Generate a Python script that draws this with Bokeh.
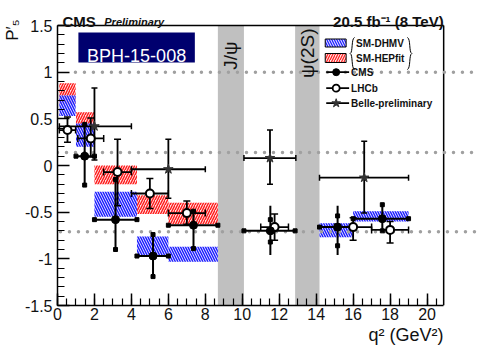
import math
from bokeh.plotting import figure
from bokeh.models import Label, Title, BoxAnnotation, SingleIntervalTicker, NumeralTickFormatter
from bokeh.embed import file_html
from bokeh.resources import INLINE

# ---------------- data ----------------
veto_lo = [8.68, 12.86]
veto_hi = [10.09, 14.18]
veto_labels = ["J/ψ", "ψ(2S)"]

# SM-DHMV theory bands
dhmv_left = [0.1, 1.0, 2.0, 4.3, 6.0, 14.18, 16.0]
dhmv_right = [0.98, 2.0, 4.3, 6.0, 8.68, 16.0, 19.0]
dhmv_lo = [0.53, 0.20, -0.55, -0.97, -1.03, -0.77, -0.60]
dhmv_hi = [0.75, 0.45, -0.28, -0.76, -0.87, -0.62, -0.49]

# SM-HEPfit theory bands
hep_left = [0.1, 1.0, 2.0, 4.3, 6.0]
hep_right = [0.98, 2.0, 4.3, 6.0, 8.68]
hep_lo = [0.66, 0.40, -0.20, -0.52, -0.63]
hep_hi = [0.88, 0.57, 0.00, -0.32, -0.40]

# CMS
cms_left = [1.0, 2.0, 4.3, 6.0, 10.09, 14.18, 16.0]
cms_right = [2.0, 4.3, 6.0, 8.68, 12.86, 16.0, 19.0]
cms_x = [1.47, 3.14, 5.17, 7.36, 11.52, 15.16, 17.58]
cms_p5 = [0.10, -0.58, -0.97, -0.64, -0.70, -0.66, -0.57]
cms_tot_lo = [-0.21, -0.90, -1.19, -0.89, -0.96, -0.96, -0.70]
cms_tot_hi = [0.44, -0.15, -0.74, -0.49, -0.43, -0.43, -0.42]
cms_stat_lo = [-0.21, -0.90, -1.19, -0.89, -0.82, -0.86, -0.70]
cms_stat_hi = [0.44, -0.15, -0.74, -0.49, -0.58, -0.54, -0.42]

# LHCb
lhcb_left = [0.1, 1.1, 2.5, 4.0, 6.0, 11.0, 15.0, 17.0]
lhcb_right = [0.98, 2.5, 4.0, 6.0, 8.0, 12.5, 17.0, 19.0]
lhcb_x = [0.54, 1.8, 3.25, 5.0, 7.0, 11.75, 16.0, 18.0]
lhcb_p5 = [0.38, 0.29, -0.07, -0.30, -0.51, -0.66, -0.66, -0.69]
lhcb_lo = [0.25, 0.09, -0.43, -0.46, -0.63, -0.80, -0.80, -0.83]
lhcb_hi = [0.52, 0.51, 0.28, -0.14, -0.38, -0.52, -0.56, -0.60]

# Belle preliminary
belle_left = [0.1, 4.0, 10.09, 14.18]
belle_right = [4.0, 8.0, 12.9, 19.0]
belle_x = [2.0, 6.0, 11.5, 16.6]
belle_p5 = [0.42, -0.04, 0.08, -0.13]
belle_lo = [0.06, -0.35, -0.20, -0.51]
belle_hi = [0.83, 0.28, 0.38, 0.26]

# reference dotted lines
ref_levels = [1.0, 0.14, -0.71]
ref_starts = [0.97, 0.0, 0.16]

# ---------------- layout ----------------
W, H = 478, 357
XMIN, XMAX = 0.0, 20.9        # axis extent
YMIN, YMAX = -1.5, 1.5
X0PX, X1PX = 55, 443          # pixel columns of XMIN / XMAX
Y0PX, Y1PX = 305, 25          # pixel rows of YMIN / YMAX
XS = (X1PX - X0PX) / (XMAX - XMIN)
YS = (Y0PX - Y1PX) / (YMAX - YMIN)
FONT = "Liberation Sans"


def dx(px):
    return XMIN + (px - X0PX) / XS


def dy(py):
    return YMAX - (py - Y1PX) / YS


# the frame reaches the right and top edges of the canvas, so texts and
# dotted lines there are not clipped; the axes are bounded to the data box
p = figure(width=W, height=H, x_range=(XMIN, dx(W)), y_range=(YMIN, dy(0)), output_backend="svg",
           toolbar_location=None, title=None, min_border_left=X0PX, min_border_top=0,
           min_border_right=0, min_border_bottom=H - Y0PX,
           background_fill_color="white", border_fill_color="white")
p.xgrid.visible = False
p.ygrid.visible = False
p.outline_line_color = None

for ax in (p.xaxis[0], p.yaxis[0]):
    ax.major_tick_in = 12
    ax.major_tick_out = 0
    ax.minor_tick_in = 7
    ax.minor_tick_out = 0
    ax.axis_line_width = 1.5
    ax.major_tick_line_width = 1.5
    ax.minor_tick_line_width = 1.2
    ax.major_label_text_font = FONT
    ax.major_label_text_font_size = "16px"
    ax.major_label_text_color = "#111111"
p.xaxis.ticker = SingleIntervalTicker(interval=2, num_minor_ticks=4)
p.yaxis.ticker = SingleIntervalTicker(interval=0.5, num_minor_ticks=5)
p.xaxis.bounds = (XMIN, XMAX)
p.yaxis.bounds = (YMIN, YMAX)
p.yaxis.formatter = NumeralTickFormatter(format="0.[0]")
p.xaxis.major_label_standoff = 2
p.yaxis.major_label_standoff = 5

# axis titles in side panels
p.add_layout(Title(text="P′₅", align="right", offset=19, standoff=0, text_font=FONT,
                   text_font_size="17px", text_font_style="normal", text_color="#111111"), "left")
p.add_layout(Title(text="q² (GeV²)", align="right", offset=W - X1PX, standoff=0, text_font=FONT,
                   text_font_size="18px", text_font_style="normal", text_color="#111111"), "below")

# veto bands
p.quad(left=veto_lo, right=veto_hi, bottom=YMIN, top=YMAX, fill_color="#c0c0c0", line_color=None)

# theory bands
p.quad(left=hep_left, right=hep_right, bottom=hep_lo, top=hep_hi, fill_color="#ffe0e0",
       hatch_pattern="/", hatch_color="#ff1a1a", hatch_scale=5, hatch_weight=1.4, line_color=None)
p.quad(left=dhmv_left, right=dhmv_right, bottom=dhmv_lo, top=dhmv_hi, fill_color="#dcdcff", fill_alpha=0.85,
       hatch_pattern="\\", hatch_color="#1a1aff", hatch_scale=5, hatch_weight=1.4, line_color=None)

# frame: top and right edges
p.segment(x0=[XMIN, XMAX], y0=[YMAX, YMIN], x1=[XMAX, XMAX], y1=[YMAX, YMAX], line_color="black", line_width=1.5)

# dotted reference lines (run to the right edge of the canvas)
p.segment(x0=ref_starts, y0=ref_levels, x1=[dx(W)] * len(ref_levels), y1=ref_levels,
          line_color="#a0a0a0", line_width=3.5, line_dash="0 9", line_cap="round")

# LHCb
p.segment(x0=lhcb_left, y0=lhcb_p5, x1=lhcb_right, y1=lhcb_p5, line_color="black", line_width=1.8)
p.segment(x0=lhcb_x, y0=lhcb_lo, x1=lhcb_x, y1=lhcb_hi, line_color="black", line_width=1.8)
p.scatter(x=lhcb_x + lhcb_x, y=lhcb_lo + lhcb_hi, marker="dash", size=7, line_color="black", line_width=1.5)
p.scatter(x=lhcb_left + lhcb_right, y=lhcb_p5 + lhcb_p5, marker="dash", angle=math.pi / 2,
          size=7, line_color="black", line_width=1.5)

# Belle
p.segment(x0=belle_left, y0=belle_p5, x1=belle_right, y1=belle_p5, line_color="black", line_width=1.8)
p.segment(x0=belle_x, y0=belle_lo, x1=belle_x, y1=belle_hi, line_color="black", line_width=1.8)
p.scatter(x=belle_x + belle_x, y=belle_lo + belle_hi, marker="dash", size=6, line_color="black", line_width=1.5)
p.scatter(x=belle_left + belle_right, y=belle_p5 + belle_p5, marker="dash", angle=math.pi / 2,
          size=6, line_color="black", line_width=1.5)

# CMS
p.segment(x0=cms_left, y0=cms_p5, x1=cms_right, y1=cms_p5, line_color="black", line_width=2)
p.segment(x0=cms_x, y0=cms_tot_lo, x1=cms_x, y1=cms_tot_hi, line_color="black", line_width=2)
p.scatter(x=cms_left + cms_right, y=cms_p5 + cms_p5, marker="square", size=4, color="black")
p.scatter(x=cms_x + cms_x, y=cms_stat_lo + cms_stat_hi, marker="square", size=4, color="black")

# markers
p.scatter(x=lhcb_x, y=lhcb_p5, marker="circle", size=8, fill_color="white", line_color="black", line_width=2)
p.scatter(x=belle_x, y=belle_p5, marker="star", size=10, color="#333333")
p.scatter(x=cms_x, y=cms_p5, marker="circle", size=8, color="black")

# veto labels, rotated, centred in the bands
for lo, hi, txt in zip(veto_lo, veto_hi, veto_labels):
    p.add_layout(Label(x=(lo + hi) / 2, y=dy(28 if txt.startswith("ψ") else 41), text=txt, angle=math.pi / 2,
                       text_align="right", text_baseline="middle", text_font=FONT,
                       text_font_size="19px", text_color="#111111"))

# BPH box
p.add_layout(BoxAnnotation(left=dx(76), right=dx(193), top=dy(32), bottom=dy(62),
                           fill_color="#00006e", fill_alpha=1.0, line_alpha=0, level="underlay"))
p.add_layout(Label(x=dx(134.5), y=dy(55), text="BPH-15-008", text_align="center", text_baseline="alphabetic",
                   text_font=FONT, text_font_size="18px", text_color="white"))

# header texts
p.add_layout(Label(x=dx(60), y=dy(21), text="CMS", text_font=FONT, text_font_size="15px",
                   text_font_style="bold", text_baseline="alphabetic", text_color="#111111"))
p.add_layout(Label(x=dx(102), y=dy(21), text="Preliminary", text_font=FONT, text_font_size="11px",
                   text_font_style="bold italic", text_baseline="alphabetic", text_color="#111111"))
p.add_layout(Label(x=dx(443), y=dy(21), text="20.5 fb⁻¹ (8 TeV)", text_font=FONT, text_font_size="15px",
                   text_font_style="bold", text_align="right", text_baseline="alphabetic", text_color="#111111"))

# ---------------- legend (drawn by hand, no fill) ----------------
p.quad(left=[dx(324)], right=[dx(345)], top=[dy(38.5)], bottom=[dy(46.5)], fill_color="#dcdcff",
       hatch_pattern="\\", hatch_color="#1a1aff", hatch_scale=5, hatch_weight=1.2, line_color="black", line_width=1)
p.quad(left=[dx(324)], right=[dx(345)], top=[dy(53)], bottom=[dy(62)], fill_color="#ffe0e0",
       hatch_pattern="/", hatch_color="#ff1a1a", hatch_scale=5, hatch_weight=1.2, line_color="black", line_width=1)
# braces
p.bezier(x0=[dx(353.5), dx(349)], y0=[dy(37), dy(53)], x1=[dx(349), dx(353.5)], y1=[dy(53), dy(69)],
         cx0=[dx(350), dx(352)], cy0=[dy(38), dy(54)], cx1=[dx(352), dx(350)], cy1=[dy(52), dy(68)],
         line_color="black", line_width=1)
p.bezier(x0=[dx(406.5), dx(411)], y0=[dy(37), dy(53)], x1=[dx(411), dx(406.5)], y1=[dy(53), dy(69)],
         cx0=[dx(410), dx(408)], cy0=[dy(38), dy(54)], cx1=[dx(408), dx(410)], cy1=[dy(52), dy(68)],
         line_color="black", line_width=1)
leg_rows = [71.7, 87.7, 102.7]
p.segment(x0=[dx(325)] * 3, x1=[dx(348)] * 3, y0=[dy(r) for r in leg_rows], y1=[dy(r) for r in leg_rows],
          line_color="black", line_width=1.8)
p.scatter(x=[dx(335)], y=[dy(leg_rows[0])], marker="circle", size=7, color="black")
p.scatter(x=[dx(335)], y=[dy(leg_rows[1])], marker="circle", size=7, fill_color="white", line_color="black",
          line_width=1.8)
p.scatter(x=[dx(335)], y=[dy(leg_rows[2])], marker="star", size=9, color="#333333")
for py, txt, px in [(42.7, "SM-DHMV", 355), (57.5, "SM-HEPfit", 355), (71.7, "CMS", 350),
                    (87.7, "LHCb", 350), (102.7, "Belle-preliminary", 350)]:
    p.add_layout(Label(x=dx(px), y=dy(py), text=txt, text_font=FONT, text_font_size="10px",
                       text_font_style="bold", text_baseline="middle", text_color="#111111"))

open("out.html", "w").write(file_html(p, INLINE))
